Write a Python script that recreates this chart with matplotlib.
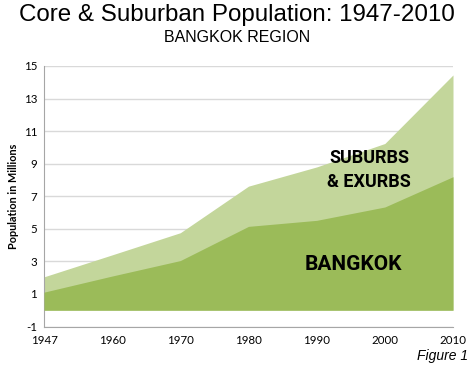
import numpy as np
import matplotlib.pyplot as plt

plt.rcParams['axes.unicode_minus'] = False

# data (millions)
years = ['1947', '1960', '1970', '1980', '1990', '2000', '2010']
bangkok = [1.11, 2.1, 3.05, 5.15, 5.52, 6.34, 8.2]
total = [2.05, 3.4, 4.76, 7.62, 8.8, 10.24, 14.45]
y_ticks = [-1, 1, 3, 5, 7, 9, 11, 13, 15]

fig = plt.figure(figsize=(4.74, 3.68), dpi=100)
ax = fig.add_axes([44/474, 1-326.5/368, (453-44)/474, (326.5-66)/368])

x = np.arange(len(years))
ax.fill_between(x, 0, total, color='#c3d69b', lw=0, zorder=2)
ax.fill_between(x, 0, bangkok, color='#9bbb59', lw=0, zorder=3)

ax.set_xlim(0, len(years)-1)
ax.set_ylim(-1, 15)
ax.set_yticks(y_ticks)
ax.set_xticks(x)
ax.set_xticklabels(years)
ax.grid(axis='y', color='#d9d9d9', lw=1, zorder=0)
ax.set_axisbelow(True)
for s in ['top', 'right']:
    ax.spines[s].set_visible(False)
for s in ['left', 'bottom']:
    ax.spines[s].set_color('#a6a6a6')
ax.tick_params(axis='both', length=0, labelsize=8.3, pad=5)
ax.tick_params(axis='x', pad=6)
for lab in ax.get_xticklabels() + ax.get_yticklabels():
    lab.set_family('Lato')
ax.set_ylabel('Population in Millions', fontsize=7.8, fontweight='bold',
              family='Lato', labelpad=3)

ax.text(4.77, 8.6, 'SUBURBS\n& EXURBS', ha='center', va='center', fontsize=13,
        fontweight='bold', family='Roboto', linespacing=1.45, zorder=5)
ax.text(4.54, 2.8, 'BANGKOK', ha='center', va='center', fontsize=15,
        fontweight='bold', family='Roboto', zorder=5)

fig.text(0.5, 1-15/368, 'Core & Suburban Population: 1947-2010', ha='center',
         va='center', fontsize=17.4, family='Liberation Sans')
fig.text(0.5, 1-37/368, 'BANGKOK REGION', ha='center', va='center',
         fontsize=11.5, family='Liberation Sans')
fig.text(468/474, 1-356/368, 'Figure 1', ha='right', va='center', fontsize=10,
         style='italic', family='Liberation Sans')

fig.savefig('out.png', dpi=100)
